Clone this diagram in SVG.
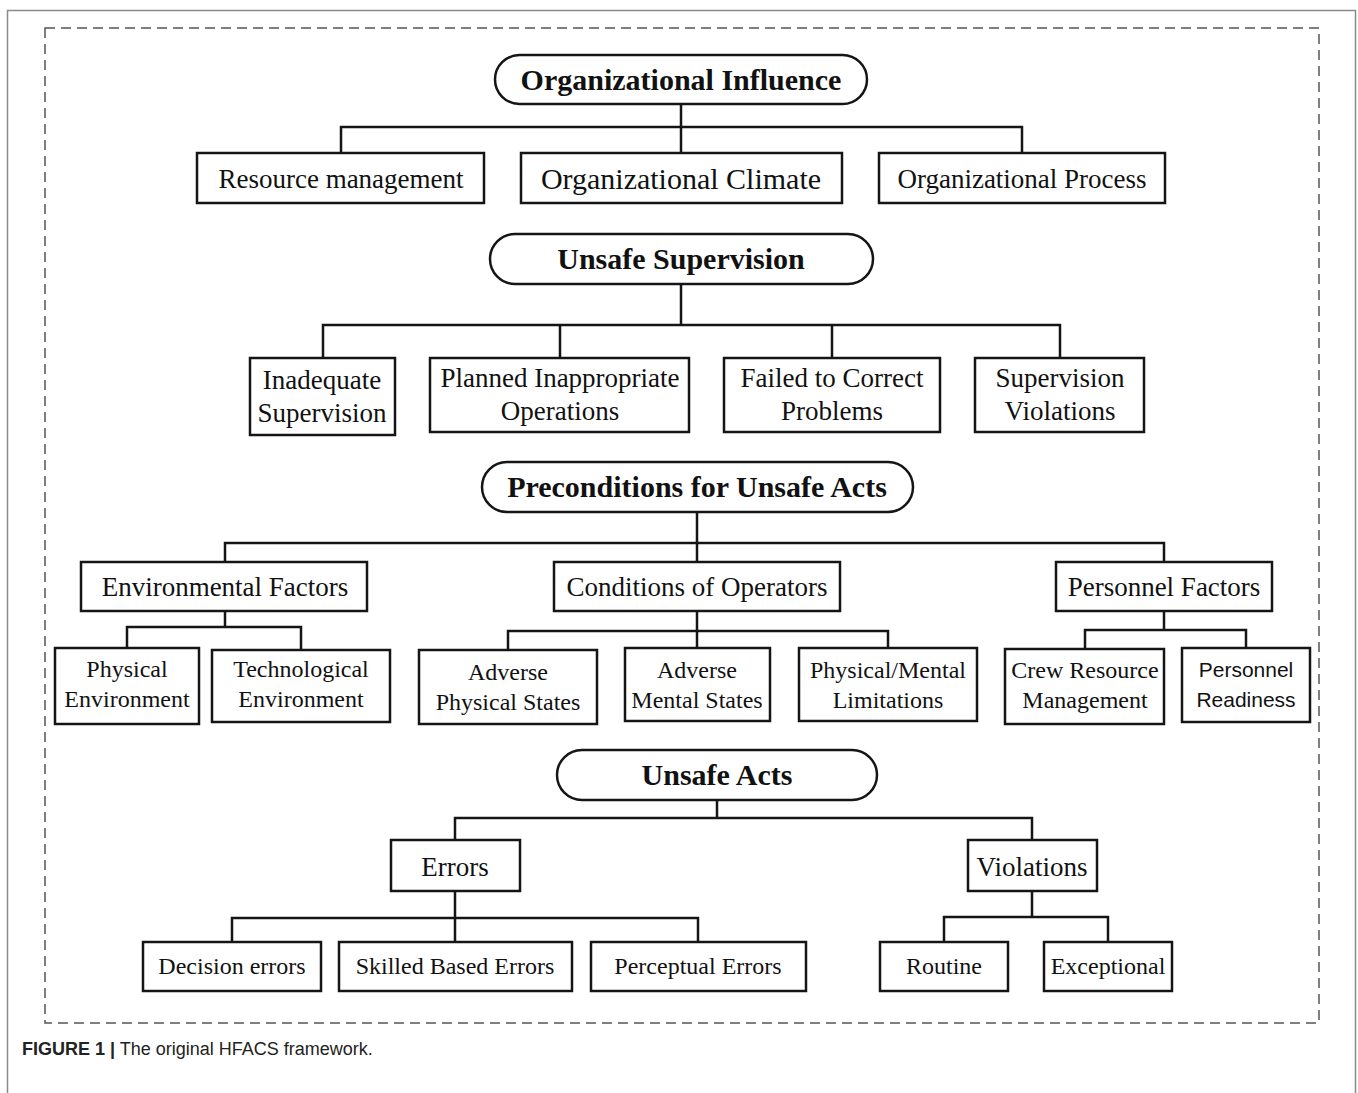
<svg xmlns="http://www.w3.org/2000/svg" width="1358" height="1093" viewBox="0 0 1358 1093">
<style>
.box{fill:#fff;stroke:#151515;stroke-width:2.5}
.pill{fill:#fff;stroke:#151515;stroke-width:2.5}
.conn{fill:none;stroke:#151515;stroke-width:2.5}
.t{font-family:"Liberation Serif","Times New Roman",serif;font-size:27px;fill:#111;text-anchor:middle}
.s{font-family:"Liberation Serif","Times New Roman",serif;font-size:24px;fill:#111;text-anchor:middle}
.b{font-family:"Liberation Serif","Times New Roman",serif;font-size:30px;font-weight:bold;fill:#111;text-anchor:middle}
.ss{font-family:"Liberation Sans",Arial,sans-serif;font-size:21px;fill:#111;text-anchor:middle}
.cap{font-family:"Liberation Sans",Arial,sans-serif;font-size:18px;fill:#222}
</style>
<rect x="0" y="0" width="1358" height="1093" fill="#fff"/>
<rect id="outer-frame" x="7.5" y="10.5" width="1348" height="1090" fill="none" stroke="#8a8a8a" stroke-width="1.5"/>
<rect id="dashed-frame" x="45" y="28" width="1274" height="995" fill="none" stroke="#555" stroke-width="1.5" stroke-dasharray="10,6"/>

<g id="connectors">
<path class="conn" d="M681,104 V153 M341,153 V127 H1022 V153"/>
<path class="conn" d="M681,284 V325 M323,358 V325 H1060 V358 M560,325 V358 M832,325 V358"/>
<path class="conn" d="M697,512 V562 M225,562 V543 H1164 V562"/>
<path class="conn" d="M225,611 V627 M127,648 V627 H301 V650"/>
<path class="conn" d="M697,611 V648 M508,650 V631 H888 V648"/>
<path class="conn" d="M1164,611 V630 M1085,649 V630 H1246 V648"/>
<path class="conn" d="M717,800 V818 M455,840 V818 H1032 V840"/>
<path class="conn" d="M455,891 V942 M232,942 V918 H698 V942"/>
<path class="conn" d="M1032,891 V917 M944,942 V917 H1108 V942"/>
</g>

<g id="organizational-influence"><rect class="pill" x="495" y="55" width="372" height="49" rx="24.5"/><text class="b" x="681" y="90">Organizational Influence</text></g>
<g id="resource-management"><rect class="box" x="197" y="153" width="287" height="50"/><text class="t" x="341" y="188">Resource management</text></g>
<g id="organizational-climate"><rect class="box" x="521" y="153" width="321" height="50"/><text class="t" x="681" y="189" style="font-size:30px">Organizational Climate</text></g>
<g id="organizational-process"><rect class="box" x="879" y="153" width="286" height="50"/><text class="t" x="1022" y="188">Organizational Process</text></g>

<g id="unsafe-supervision"><rect class="pill" x="490" y="234" width="383" height="50" rx="25"/><text class="b" x="681" y="269">Unsafe Supervision</text></g>
<g id="inadequate-supervision"><rect class="box" x="250" y="358" width="145" height="77"/><text class="t" x="322" y="389">Inadequate</text><text class="t" x="322" y="422">Supervision</text></g>
<g id="planned-inappropriate-operations"><rect class="box" x="430" y="358" width="259" height="74"/><text class="t" x="560" y="387">Planned Inappropriate</text><text class="t" x="560" y="420">Operations</text></g>
<g id="failed-to-correct-problems"><rect class="box" x="724" y="358" width="216" height="74"/><text class="t" x="832" y="387">Failed to Correct</text><text class="t" x="832" y="420">Problems</text></g>
<g id="supervision-violations"><rect class="box" x="975" y="358" width="169" height="74"/><text class="t" x="1060" y="387">Supervision</text><text class="t" x="1060" y="420">Violations</text></g>

<g id="preconditions"><rect class="pill" x="482" y="462" width="431" height="50" rx="25"/><text class="b" x="697" y="497">Preconditions for Unsafe Acts</text></g>
<g id="environmental-factors"><rect class="box" x="81" y="562" width="286" height="49"/><text class="t" x="225" y="596">Environmental Factors</text></g>
<g id="conditions-of-operators"><rect class="box" x="554" y="562" width="286" height="49"/><text class="t" x="697" y="596">Conditions of Operators</text></g>
<g id="personnel-factors"><rect class="box" x="1056" y="562" width="216" height="49"/><text class="t" x="1164" y="596">Personnel Factors</text></g>

<g id="physical-environment"><rect class="box" x="55" y="648" width="144" height="76"/><text class="s" x="127" y="677">Physical</text><text class="s" x="127" y="707">Environment</text></g>
<g id="technological-environment"><rect class="box" x="212" y="650" width="178" height="72"/><text class="s" x="301" y="677">Technological</text><text class="s" x="301" y="707">Environment</text></g>
<g id="adverse-physical-states"><rect class="box" x="419" y="650" width="178" height="74"/><text class="s" x="508" y="680">Adverse</text><text class="s" x="508" y="710">Physical States</text></g>
<g id="adverse-mental-states"><rect class="box" x="625" y="648" width="145" height="73"/><text class="s" x="697" y="678">Adverse</text><text class="s" x="697" y="708">Mental States</text></g>
<g id="physical-mental-limitations"><rect class="box" x="799" y="648" width="178" height="73"/><text class="s" x="888" y="678">Physical/Mental</text><text class="s" x="888" y="708">Limitations</text></g>
<g id="crew-resource-management"><rect class="box" x="1005" y="649" width="159" height="75"/><text class="s" x="1085" y="678">Crew Resource</text><text class="s" x="1085" y="708">Management</text></g>
<g id="personnel-readiness"><rect class="box" x="1182" y="648" width="128" height="74"/><text class="ss" x="1246" y="677">Personnel</text><text class="ss" x="1246" y="707">Readiness</text></g>

<g id="unsafe-acts"><rect class="pill" x="557" y="750" width="320" height="50" rx="25"/><text class="b" x="717" y="785">Unsafe Acts</text></g>
<g id="errors"><rect class="box" x="391" y="840" width="129" height="51"/><text class="t" x="455" y="876">Errors</text></g>
<g id="violations"><rect class="box" x="968" y="840" width="129" height="51"/><text class="t" x="1032" y="876">Violations</text></g>
<g id="decision-errors"><rect class="box" x="143" y="942" width="178" height="49"/><text class="s" x="232" y="974">Decision errors</text></g>
<g id="skilled-based-errors"><rect class="box" x="339" y="942" width="233" height="49"/><text class="s" x="455" y="974">Skilled Based Errors</text></g>
<g id="perceptual-errors"><rect class="box" x="591" y="942" width="215" height="49"/><text class="s" x="698" y="974">Perceptual Errors</text></g>
<g id="routine"><rect class="box" x="880" y="942" width="128" height="49"/><text class="s" x="944" y="974">Routine</text></g>
<g id="exceptional"><rect class="box" x="1044" y="942" width="128" height="49"/><text class="s" x="1108" y="974">Exceptional</text></g>

<text class="cap" x="22" y="1055"><tspan font-weight="bold">FIGURE 1 |</tspan> The original HFACS framework.</text>
</svg>
